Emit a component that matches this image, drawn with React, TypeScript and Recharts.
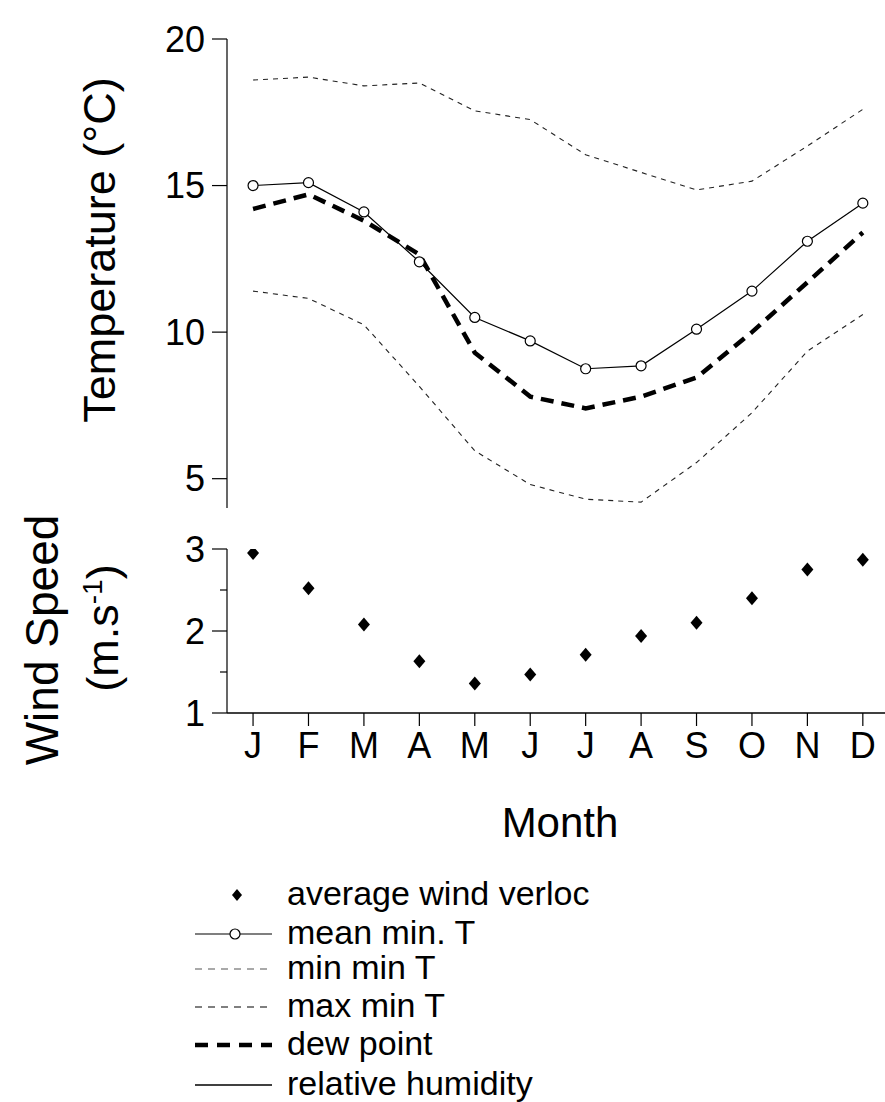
import { ComposedChart, Line, XAxis, YAxis } from 'recharts';

// month initials on the x axis
const months = ['J', 'F', 'M', 'A', 'M', 'J', 'J', 'A', 'S', 'O', 'N', 'D'];

// temperatures (°C)
const meanMinT = [15.0, 15.1, 14.1, 12.4, 10.5, 9.7, 8.75, 8.85, 10.1, 11.4, 13.1, 14.4];
const minMinT = [11.4, 11.15, 10.25, 8.15, 5.95, 4.8, 4.3, 4.2, 5.55, 7.25, 9.35, 10.6];
const maxMinT = [18.6, 18.7, 18.4, 18.5, 17.55, 17.25, 16.05, 15.45, 14.85, 15.15, 16.35, 17.6];
const dewPoint = [14.2, 14.7, 13.8, 12.65, 9.3, 7.8, 7.4, 7.8, 8.45, 10.0, 11.7, 13.4];

// wind speed (m/s)
const windSpeed = [2.95, 2.52, 2.08, 1.63, 1.36, 1.47, 1.71, 1.94, 2.1, 2.4, 2.75, 2.87];

const tempTicks = [5, 10, 15, 20];
const windTicks = [1, 1.5, 2, 2.5, 3];
const monthIdx = months.map((_, i) => i);

const legendNames = [
  'average wind verloc',
  'mean min. T',
  'min min T',
  'max min T',
  'dew point',
  'relative humidity',
];

const data = months.map((m, i) => ({
  i,
  m,
  meanMin: meanMinT[i],
  minMin: minMinT[i],
  maxMin: maxMinT[i],
  dew: dewPoint[i],
  wind: windSpeed[i],
}));

const FONT = '"Liberation Sans", Arial, sans-serif';
const X_DOMAIN: [number, number] = [-0.47, 11.4];

const Diamond = (props: any) => {
  const { cx, cy } = props;
  if (cx == null || cy == null) return null;
  return (
    <polygon
      points={`${cx},${cy - 7} ${cx + 6},${cy} ${cx},${cy + 7} ${cx - 6},${cy}`}
      fill="#000"
    />
  );
};

// wind axis tick: long line + label on whole numbers, short line on halves
const WindTick = (props: any) => {
  const { x, y, payload } = props;
  const v = payload.value;
  const major = Number.isInteger(v);
  const axisX = x + 7 + 15;
  return (
    <g>
      <line x1={major ? axisX - 15 : axisX - 7} x2={axisX} y1={y} y2={y} stroke="#000" strokeWidth={1.2} />
      {major && (
        <text x={x} y={y} dy="0.355em" textAnchor="end" fontSize={36} fontFamily={FONT} fill="#000">
          {v}
        </text>
      )}
    </g>
  );
};

const LegendSymbol = ({ idx, y }: { idx: number; y: number }) => {
  const x1 = 195;
  const x2 = 272;
  switch (idx) {
    case 0:
      return <polygon points={`237,${y - 6} 242,${y} 237,${y + 6} 232,${y}`} fill="#000" />;
    case 1:
      return (
        <g>
          <line x1={x1} x2={x2} y1={y} y2={y} stroke="#000" strokeWidth={1.2} />
          <circle cx={235} cy={y} r={5} fill="#fff" stroke="#000" strokeWidth={1.2} />
        </g>
      );
    case 2:
      return <line x1={x1} x2={x2} y1={y} y2={y} stroke="#555" strokeWidth={1.2} strokeDasharray="7 6" />;
    case 3:
      return <line x1={x1} x2={x2} y1={y} y2={y} stroke="#000" strokeWidth={1.2} strokeDasharray="7 6" />;
    case 4:
      return <line x1={x1} x2={x2} y1={y} y2={y} stroke="#000" strokeWidth={4.5} strokeDasharray="13 9" />;
    default:
      return <line x1={x1} x2={x2} y1={y} y2={y} stroke="#000" strokeWidth={1.4} />;
  }
};

export default function App() {
  const legendRows = [895, 934, 969, 1007, 1045, 1085];
  return (
    <div style={{ position: 'absolute', left: 0, top: 0, width: 885, height: 1102, background: '#fff', fontFamily: FONT }}>
      {/* upper panel: temperatures */}
      <div style={{ position: 'absolute', left: 0, top: 0 }}>
        <ComposedChart width={885} height={520} data={data} margin={{ top: 39, right: 0, bottom: 12, left: 0 }}>
          <XAxis hide type="number" dataKey="i" domain={X_DOMAIN} ticks={monthIdx} />
          <YAxis
            width={227}
            domain={[4, 20]}
            ticks={tempTicks}
            interval={0}
            allowDataOverflow
            tickSize={15}
            tickMargin={7}
            axisLine={{ stroke: '#000', strokeWidth: 1.2 }}
            tickLine={{ stroke: '#000', strokeWidth: 1.2 }}
            tick={{ fill: '#000', fontSize: 36, fontFamily: FONT }}
          />
          <Line
            type="linear"
            dataKey="maxMin"
            stroke="#222"
            strokeWidth={1.1}
            strokeDasharray="5 5"
            dot={false}
            isAnimationActive={false}
          />
          <Line
            type="linear"
            dataKey="minMin"
            stroke="#222"
            strokeWidth={1.1}
            strokeDasharray="5 5"
            dot={false}
            isAnimationActive={false}
          />
          <Line
            type="linear"
            dataKey="dew"
            stroke="#000"
            strokeWidth={4.5}
            strokeDasharray="13 8"
            dot={false}
            isAnimationActive={false}
          />
          <Line
            type="linear"
            dataKey="meanMin"
            stroke="#000"
            strokeWidth={1.2}
            dot={{ r: 5, fill: '#fff', stroke: '#000', strokeWidth: 1.2 }}
            isAnimationActive={false}
          />
        </ComposedChart>
      </div>

      {/* lower panel: wind speed */}
      <div style={{ position: 'absolute', left: 0, top: 520 }}>
        <ComposedChart width={885} height={270} data={data} margin={{ top: 29, right: 0, bottom: 0, left: 0 }}>
          <XAxis
            type="number"
            dataKey="i"
            domain={X_DOMAIN}
            ticks={monthIdx}
            interval={0}
            height={77}
            tickSize={13}
            tickMargin={6}
            tickFormatter={(v: number) => months[v] ?? ''}
            axisLine={{ stroke: '#000', strokeWidth: 1.4 }}
            tickLine={{ stroke: '#000', strokeWidth: 1.2 }}
            tick={{ fill: '#000', fontSize: 36, fontFamily: FONT }}
          />
          <YAxis
            width={227}
            domain={[1, 3]}
            ticks={windTicks}
            interval={0}
            allowDataOverflow
            tickSize={15}
            tickMargin={7}
            tickLine={false}
            axisLine={{ stroke: '#000', strokeWidth: 1.2 }}
            tick={<WindTick />}
          />
          <Line
            type="linear"
            dataKey="wind"
            stroke="none"
            dot={<Diamond />}
            activeDot={false}
            isAnimationActive={false}
          />
        </ComposedChart>
      </div>

      {/* axis titles and legend */}
      <svg width={885} height={1102} style={{ position: 'absolute', left: 0, top: 0, pointerEvents: 'none' }}>
        <text transform="translate(115,250) rotate(-90)" textAnchor="middle" fontSize={45} fontFamily={FONT} fill="#000">
          Temperature (°C)
        </text>
        <text transform="translate(58,640) rotate(-90)" textAnchor="middle" fontSize={46} fontFamily={FONT} fill="#000">
          Wind Speed
        </text>
        <text transform="translate(118,628) rotate(-90)" textAnchor="middle" fontSize={45} fontFamily={FONT} fill="#000">
          (m.s
          <tspan dy={-16} fontSize={28}>-1</tspan>
          <tspan dy={16}>)</tspan>
        </text>
        <text x={560} y={837} textAnchor="middle" fontSize={42} fontFamily={FONT} fill="#000">
          Month
        </text>
        {legendNames.map((name, k) => (
          <g key={name}>
            <LegendSymbol idx={k} y={legendRows[k]} />
            <text x={287} y={legendRows[k] + 10} fontSize={34} fontFamily={FONT} fill="#000">
              {name}
            </text>
          </g>
        ))}
      </svg>
    </div>
  );
}
